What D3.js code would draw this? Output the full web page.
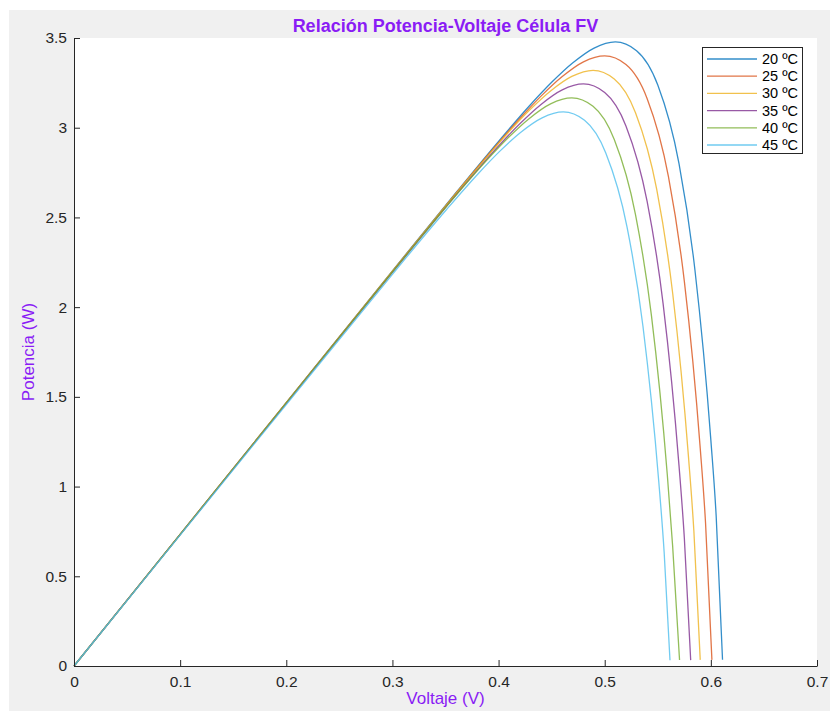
<!DOCTYPE html>
<html>
<head>
<meta charset="utf-8">
<script src="https://cdn.jsdelivr.net/npm/d3@7"></script>
<style>
  html, body { margin: 0; padding: 0; background: #ffffff; }
  svg { display: block; font-family: "Liberation Sans", Arial, Helvetica, sans-serif; }
</style>
</head>
<body>
<svg id="chart" width="830" height="711"></svg>
<script>
// ---- data ----
const seriesNames = ["20 ºC", "25 ºC", "30 ºC", "35 ºC", "40 ºC", "45 ºC"];
const seriesColors = ["#0072BD", "#D95319", "#EDB120", "#7E2F8E", "#77AC30", "#4DBEEE"];

const v20 = [0, 0.1, 0.2, 0.3, 0.36, 0.40, 0.43, 0.45, 0.47, 0.49, 0.51, 0.53, 0.55, 0.57, 0.585, 0.60, 0.605, 0.611];
const p20 = [0, 0.734, 1.468, 2.202, 2.639, 2.924, 3.128, 3.253, 3.362, 3.444, 3.478, 3.429, 3.238, 2.800, 2.207, 1.259, 0.837, 0.035];

const v25 = [0, 0.1, 0.2, 0.3, 0.35, 0.39, 0.42, 0.44, 0.46, 0.48, 0.50, 0.52, 0.54, 0.56, 0.575, 0.59, 0.595, 0.601];
const p25 = [0, 0.734, 1.467, 2.199, 2.563, 2.848, 3.051, 3.176, 3.285, 3.367, 3.400, 3.352, 3.162, 2.729, 2.145, 1.213, 0.797, 0.034];

const v30 = [0, 0.1, 0.2, 0.3, 0.339, 0.379, 0.409, 0.429, 0.449, 0.469, 0.489, 0.509, 0.529, 0.549, 0.564, 0.579, 0.584, 0.590];
const p30 = [0, 0.734, 1.468, 2.200, 2.484, 2.769, 2.972, 3.097, 3.205, 3.286, 3.320, 3.272, 3.084, 2.656, 2.079, 1.160, 0.752, 0.034];

const v35 = [0, 0.1, 0.2, 0.3, 0.33, 0.37, 0.40, 0.42, 0.44, 0.46, 0.48, 0.50, 0.52, 0.54, 0.555, 0.57, 0.575, 0.581];
const p35 = [0, 0.732, 1.464, 2.194, 2.411, 2.695, 2.898, 3.022, 3.130, 3.211, 3.244, 3.196, 3.010, 2.588, 2.020, 1.117, 0.715, 0.033];

const v40 = [0, 0.1, 0.2, 0.3, 0.319, 0.359, 0.389, 0.409, 0.429, 0.449, 0.469, 0.489, 0.509, 0.529, 0.544, 0.559, 0.564, 0.5705];
const p40 = [0, 0.733, 1.466, 2.196, 2.333, 2.618, 2.820, 2.944, 3.052, 3.133, 3.166, 3.119, 2.934, 2.516, 1.954, 1.063, 0.668, 0.033];

const v45 = [0, 0.1, 0.2, 0.3, 0.311, 0.351, 0.381, 0.401, 0.421, 0.441, 0.461, 0.481, 0.501, 0.521, 0.536, 0.551, 0.556, 0.5615];
const p45 = [0, 0.729, 1.457, 2.183, 2.262, 2.544, 2.745, 2.868, 2.975, 3.055, 3.088, 3.041, 2.859, 2.448, 1.895, 1.023, 0.634, 0.032];

const xTicks = [0, 0.1, 0.2, 0.3, 0.4, 0.5, 0.6, 0.7];
const xTickLabels = ["0", "0.1", "0.2", "0.3", "0.4", "0.5", "0.6", "0.7"];
const yTicks = [0, 0.5, 1, 1.5, 2, 2.5, 3, 3.5];
const yTickLabels = ["0", "0.5", "1", "1.5", "2", "2.5", "3", "3.5"];

const titleText = "Relación Potencia-Voltaje Célula FV";
const xLabelText = "Voltaje (V)";
const yLabelText = "Potencia (W)";

// ---- build ----
const volts = [v20, v25, v30, v35, v40, v45];
const powers = [p20, p25, p30, p35, p40, p45];
const series = seriesNames.map((name, i) => ({
  name, color: seriesColors[i],
  points: volts[i].map((v, j) => ({ v, p: powers[i][j] }))
}));

const W = 830, H = 711;
const plot = { left: 74, right: 817, top: 38, bottom: 666 };
const axisColor = "#262626";
const purple = "#8A1CF5";

const svg = d3.select("#chart");

// figure background
svg.append("rect").attr("x", 9).attr("y", 10).attr("width", W - 9).attr("height", H - 10).attr("fill", "#f0f0f0");
// axes background
svg.append("rect").attr("x", plot.left).attr("y", plot.top)
  .attr("width", plot.right - plot.left).attr("height", plot.bottom - plot.top).attr("fill", "#ffffff");

const x = d3.scaleLinear().domain([0, 0.7]).range([plot.left, plot.right]);
const y = d3.scaleLinear().domain([0, 3.5]).range([plot.bottom, plot.top]);

const line = d3.line().x(d => x(d.v)).y(d => y(d.p)).curve(d3.curveMonotoneX);

svg.append("g").selectAll("path").data(series).join("path")
  .attr("d", d => line(d.points))
  .attr("fill", "none")
  .attr("stroke", d => d.color)
  .attr("stroke-opacity", 0.8)
  .attr("stroke-width", 1.3);

// axes
const xAxis = d3.axisBottom(x).tickValues(xTicks)
  .tickFormat((d, i) => xTickLabels[i]).tickSizeInner(-6).tickSizeOuter(0).tickPadding(10);
const gx = svg.append("g").attr("transform", `translate(0,${plot.bottom})`).call(xAxis);

const yAxis = d3.axisLeft(y).tickValues(yTicks)
  .tickFormat((d, i) => yTickLabels[i]).tickSizeInner(-6).tickSizeOuter(0).tickPadding(7);
const gy = svg.append("g").attr("transform", `translate(${plot.left},0)`).call(yAxis);

[gx, gy].forEach(g => {
  g.select(".domain").attr("stroke", axisColor);
  g.selectAll(".tick line").attr("stroke", axisColor);
  g.selectAll(".tick text").attr("fill", axisColor)
    .style("font-size", "15.5px")
    .style("font-family", '"Liberation Sans", Arial, sans-serif');
});

// title & labels
svg.append("text").attr("x", (plot.left + plot.right) / 2).attr("y", 32)
  .attr("text-anchor", "middle").attr("fill", purple)
  .style("font-size", "18px").style("font-weight", "bold").text(titleText);

svg.append("text").attr("x", (plot.left + plot.right) / 2).attr("y", 704)
  .attr("text-anchor", "middle").attr("fill", purple)
  .style("font-size", "17px").text(xLabelText);

svg.append("text")
  .attr("transform", `translate(34,${(plot.top + plot.bottom) / 2}) rotate(-90)`)
  .attr("text-anchor", "middle").attr("fill", purple)
  .style("font-size", "17px").text(yLabelText);

// legend
const lg = { x: 702, y: 47, w: 100, h: 106, rowY0: 59, rowH: 17.2 };
svg.append("rect").attr("x", lg.x + 0.5).attr("y", lg.y + 0.5).attr("width", lg.w).attr("height", lg.h)
  .attr("fill", "#ffffff").attr("stroke", axisColor).attr("stroke-width", 1);

const rows = svg.append("g").selectAll("g").data(series).join("g")
  .attr("transform", (d, i) => `translate(0,${lg.rowY0 + i * lg.rowH})`);
rows.append("line").attr("x1", 707).attr("x2", 757).attr("y1", 0).attr("y2", 0)
  .attr("stroke", d => d.color).attr("stroke-opacity", 0.8).attr("stroke-width", 1.3);
rows.append("text").attr("x", 762).attr("y", 0).attr("dy", "0.35em")
  .attr("fill", "#000000").style("font-size", "14.5px").text(d => d.name);
</script>
</body>
</html>
